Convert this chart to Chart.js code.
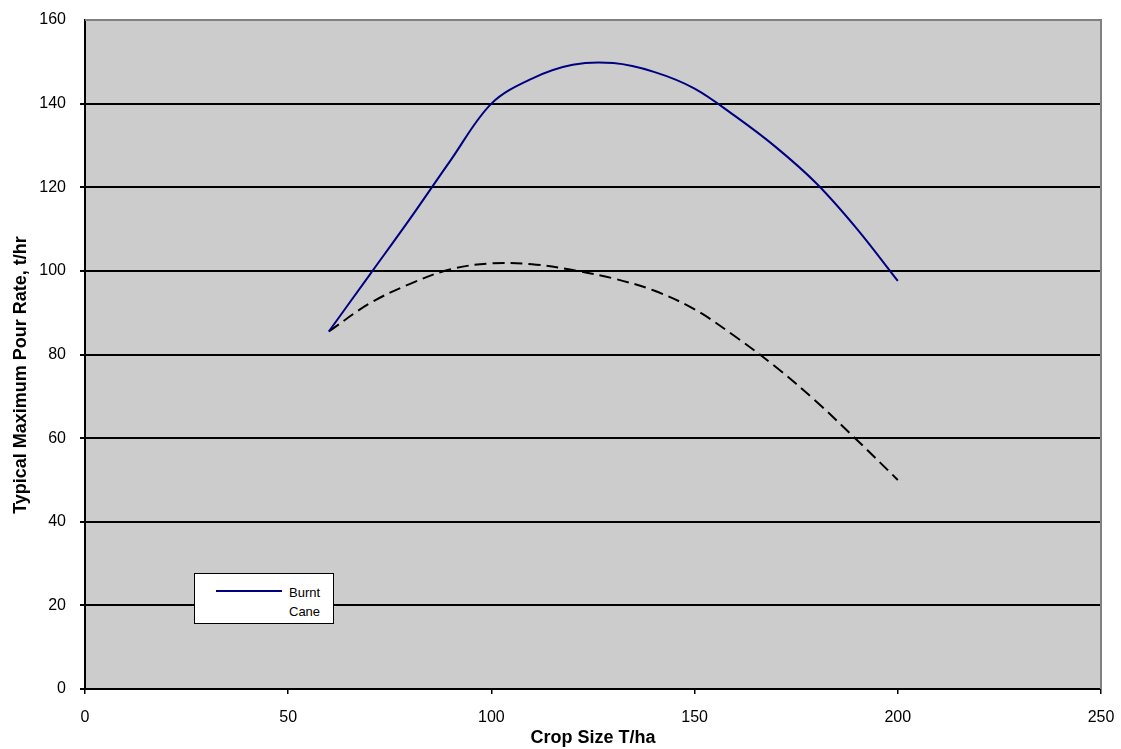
<!DOCTYPE html>
<html>
<head>
<meta charset="utf-8">
<script src="https://cdn.jsdelivr.net/npm/chart.js@4.4.1/dist/chart.umd.min.js"></script>
<style>
  html, body { margin: 0; padding: 0; background: #fff; }
  #wrap { position: relative; width: 1121px; height: 749px; }
  #legendBox {
    position: absolute; left: 194px; top: 573px; width: 138px; height: 49px;
    background: #fff; border: 1px solid #000; font-family: "Liberation Sans", Arial, sans-serif;
    font-size: 13px; color: #000;
  }
  #legendBox .sample { position: absolute; left: 21px; top: 16px; width: 66px; border-top: 2px solid #000080; }
  #legendBox .txt { position: absolute; left: 94px; top: 9px; line-height: 19px; }
  #yTitle {
    position: absolute; left: -180px; top: 364px; width: 400px; height: 22px; line-height: 22px;
    text-align: center; transform: rotate(-90deg); transform-origin: 50% 50%;
    font-family: "Liberation Sans", Arial, sans-serif; font-weight: bold; font-size: 18px; color: #000;
  }
</style>
</head>
<body>
<div id="wrap">
  <canvas id="chart" width="1121" height="749"></canvas>
  <div id="yTitle">Typical Maximum Pour Rate, t/hr</div>
  <div id="legendBox"><div class="sample"></div><div class="txt">Burnt<br>Cane</div></div>
</div>
<script>
// Datos
var cropSize = [60, 70, 80, 90, 100, 110, 120, 130, 140, 150, 160, 170, 180, 190, 200];
var burntCane = [85.5, 99, 112.5, 126.5, 140, 146, 149.3, 149.7, 147.6, 143.6, 137, 129.6, 120.9, 110, 97.6];
var otherCane = [85.5, 92.2, 96.9, 100.4, 101.8, 101.6, 100.2, 98.2, 95.3, 90.8, 84.3, 77, 68.7, 59.5, 50];
var xTicks = [0, 50, 100, 150, 200, 250];
var yTicks = [0, 20, 40, 60, 80, 100, 120, 140, 160];

function toPoints(xs, ys) {
    var pts = [];
    for (var i = 0; i < xs.length; i++) pts.push({ x: xs[i], y: ys[i] });
    return pts;
}

// Fondo gris del área de trazado y bordes superior/derecho
var plotBackground = {
    id: 'plotBackground',
    beforeDraw: function(chart) {
        var a = chart.chartArea, ctx = chart.ctx;
        ctx.save();
        ctx.fillStyle = '#cccccc';
        ctx.fillRect(a.left, a.top, a.right - a.left, a.bottom - a.top);
        ctx.restore();
    },
    afterDatasetsDraw: function(chart) {
        var a = chart.chartArea, ctx = chart.ctx;
        ctx.save();
        ctx.strokeStyle = '#808080';
        ctx.lineWidth = 2;
        ctx.beginPath();
        ctx.moveTo(a.left, a.top);
        ctx.lineTo(a.right, a.top);
        ctx.lineTo(a.right, a.bottom);
        ctx.stroke();
        ctx.restore();
    }
};

var font = { family: '"Liberation Sans", Arial, sans-serif', size: 16 };
var titleFont = { family: '"Liberation Sans", Arial, sans-serif', size: 18, weight: 'bold' };

var ctx = document.getElementById('chart').getContext('2d');
var chart = new Chart(ctx, {
    type: 'line',
    data: {
        datasets: [{
            label: 'Burnt Cane',
            data: toPoints(cropSize, burntCane),
            borderColor: '#000080',
            borderWidth: 2,
            pointRadius: 0,
            tension: 0.35,
            fill: false
        }, {
            label: 'Cane',
            data: toPoints(cropSize, otherCane),
            borderColor: '#000000',
            borderWidth: 2,
            borderDash: [12, 6],
            pointRadius: 0,
            tension: 0.35,
            fill: false
        }]
    },
    options: {
        responsive: false,
        animation: false,
        layout: { padding: { top: 20, right: 20, left: 0, bottom: 0 } },
        plugins: {
            legend: { display: false },
            tooltip: { enabled: false }
        },
        scales: {
            x: {
                type: 'linear',
                min: 0, max: 250,
                afterBuildTicks: function(s) { s.ticks = xTicks.map(function(v) { return { value: v }; }); },
                afterFit: function(s) { s.height = 60; s.paddingLeft = 0; s.paddingRight = 0; },
                grid: { drawOnChartArea: false, color: '#000', tickLength: 5, lineWidth: 1.5 },
                border: { color: '#000', width: 2 },
                ticks: { font: font, color: '#000', padding: 14, maxRotation: 0 },
                title: { display: true, text: 'Crop Size T/ha', font: titleFont, color: '#000', padding: { top: 0, bottom: 0 } }
            },
            y: {
                min: 0, max: 160,
                afterBuildTicks: function(s) { s.ticks = yTicks.map(function(v) { return { value: v }; }); },
                afterFit: function(s) { s.width = 85; s.paddingTop = 0; s.paddingBottom = 0; },
                grid: {
                    color: function(c) { return c.tick && c.tick.value === 160 ? 'rgba(0,0,0,0)' : '#000'; },
                    lineWidth: 2,
                    tickLength: 5
                },
                border: { color: '#000', width: 2 },
                ticks: { font: font, color: '#000', padding: 14 }
            }
        }
    },
    plugins: [plotBackground]
});
</script>
</body>
</html>
